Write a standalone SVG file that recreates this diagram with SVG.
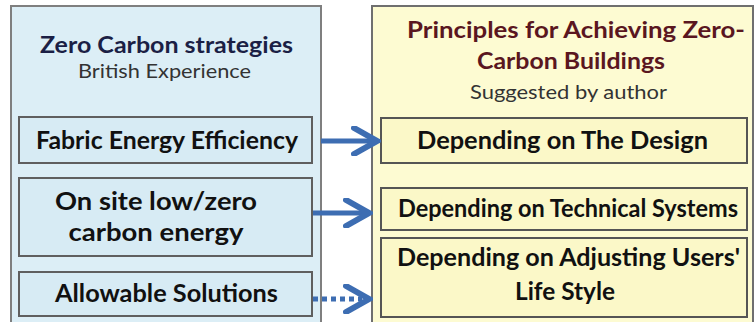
<svg xmlns="http://www.w3.org/2000/svg" width="755" height="322" viewBox="0 0 755 322">
<style>
.outerL{fill:#dceef6;stroke:#7f7f7f;stroke-width:2}
.outerR{fill:#fdfbd2;stroke:#6f6f6f;stroke-width:2}
.boxL{fill:#d7ebf4;stroke:#5f5f5f;stroke-width:2}
.boxR{fill:#fbf8c8;stroke:#555555;stroke-width:2}
text{font-family:Lato,"Open Sans","Liberation Sans",sans-serif;text-anchor:middle}
.b{font-weight:bold;font-size:24px;fill:#111111}
.tL{font-weight:bold;font-size:23px;fill:#1b1f45}
.tR{font-weight:bold;font-size:23px;fill:#5a1620}
.sub{font-size:19.5px;fill:#333333}
.arr{fill:none;stroke:#3d6db2;stroke-width:5}
.dot{stroke-dasharray:5 4}
</style>
<defs>
<marker id="chev" viewBox="0 0 30 30" refX="26" refY="15" markerWidth="30" markerHeight="30" markerUnits="userSpaceOnUse" orient="auto">
<path d="M3,2 L26,15 L3,28" fill="none" stroke="#3d6db2" stroke-width="6" stroke-linejoin="miter" stroke-linecap="round"/>
</marker>
</defs>
<g id="left-panel">
<rect class="outerL" x="11" y="6" width="310" height="330"/>
<text class="tL" x="166.5" y="53" textLength="253" lengthAdjust="spacingAndGlyphs">Zero Carbon strategies</text>
<text class="sub" x="164.5" y="78" textLength="173" lengthAdjust="spacingAndGlyphs">British Experience</text>
</g>
<g id="fabric">
<rect class="boxL" x="19" y="117" width="293" height="46"/>
<text class="b" x="167" y="149" textLength="262" lengthAdjust="spacingAndGlyphs">Fabric Energy Efficiency</text>
</g>
<g id="onsite">
<rect class="boxL" x="19" y="178" width="293" height="78"/>
<text class="b" x="156" y="210" textLength="202" lengthAdjust="spacingAndGlyphs">On site low/zero</text>
<text class="b" x="156" y="241" textLength="175" lengthAdjust="spacingAndGlyphs">carbon energy</text>
</g>
<g id="allowable">
<rect class="boxL" x="19" y="272" width="293" height="44"/>
<text class="b" x="166.5" y="302" textLength="223" lengthAdjust="spacingAndGlyphs">Allowable Solutions</text>
</g>
<g id="right-panel">
<rect class="outerR" x="372" y="6" width="381" height="330"/>
<text class="tR" x="576" y="38" textLength="338" lengthAdjust="spacingAndGlyphs">Principles for Achieving Zero-</text>
<text class="tR" x="571" y="69" textLength="188" lengthAdjust="spacingAndGlyphs">Carbon Buildings</text>
<text class="sub" x="568.5" y="99" textLength="197" lengthAdjust="spacingAndGlyphs">Suggested by author</text>
</g>
<g id="design">
<rect class="boxR" x="381" y="118" width="366" height="45"/>
<text class="b" x="562.5" y="149" textLength="291" lengthAdjust="spacingAndGlyphs">Depending on The Design</text>
</g>
<g id="technical">
<rect class="boxR" x="381" y="188" width="366" height="42"/>
<text class="b" x="568" y="217" textLength="340" lengthAdjust="spacingAndGlyphs">Depending on Technical Systems</text>
</g>
<g id="lifestyle">
<rect class="boxR" x="381" y="238" width="366" height="79"/>
<text class="b" x="568.5" y="266" textLength="343" lengthAdjust="spacingAndGlyphs">Depending on Adjusting Users'</text>
<text class="b" x="565" y="300" textLength="100" lengthAdjust="spacingAndGlyphs">Life Style</text>
</g>
<g id="connectors">
<path class="arr" d="M321,141 H377" marker-end="url(#chev)"/>
<path class="arr" d="M313,213 H369" marker-end="url(#chev)"/>
<path class="arr dot" d="M313,299 H362"/>
<path class="arr" d="M362,299 H369" stroke-opacity="0" marker-end="url(#chev)"/>
</g>
</svg>
